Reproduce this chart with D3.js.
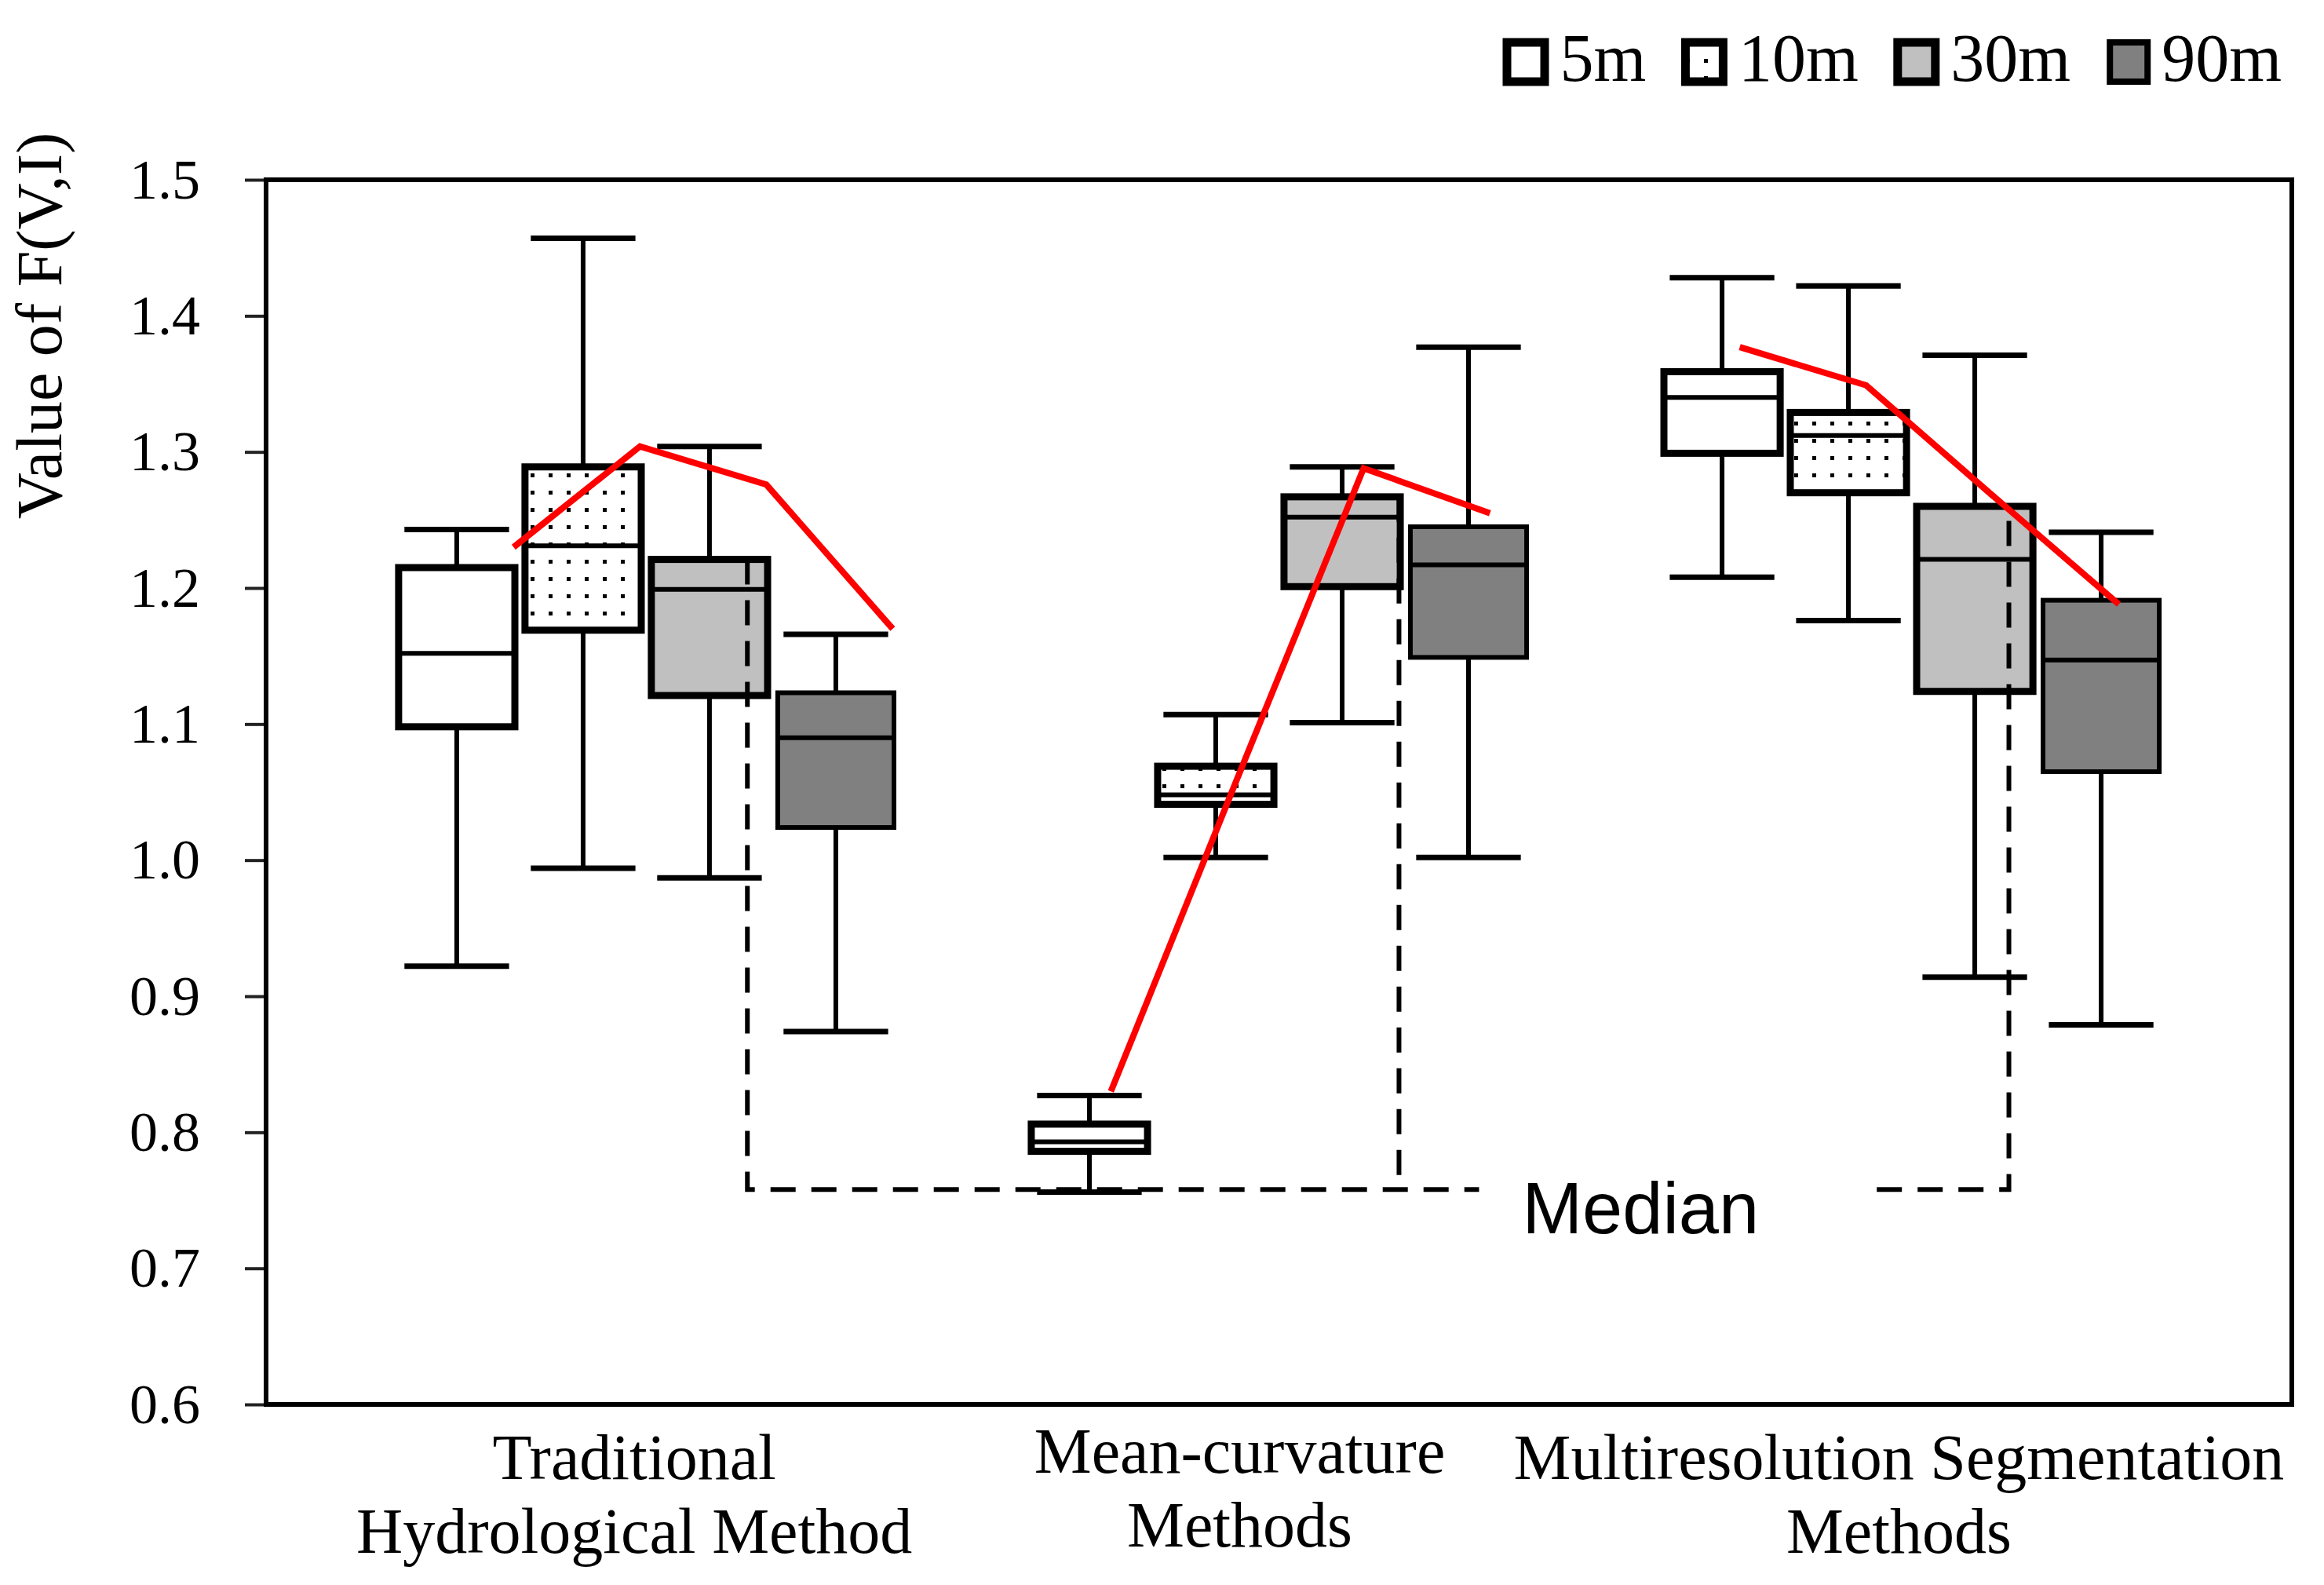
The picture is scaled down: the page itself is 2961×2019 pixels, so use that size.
<!DOCTYPE html>
<html>
<head>
<meta charset="utf-8">
<script src="https://cdn.jsdelivr.net/npm/d3@7"></script>
<style>
  body { margin: 0; background: #fff; }
  text { fill: #000; }
</style>
</head>
<body>
<svg id="chart" width="2961" height="2019"></svg>
<script>
// box plot of F(V,I) for three method families at four DEM resolutions

var categories = ["Traditional Hydrological Method", "Mean-curvature Methods", "Multiresolution Segmentation Methods"];
var categoryLines = [["Traditional", "Hydrological Method"], ["Mean-curvature", "Methods"], ["Multiresolution Segmentation", "Methods"]];
var resolutions = ["5m", "10m", "30m", "90m"];

// one row per category, one entry per resolution
var whiskerHigh = [[1.243, 1.457, 1.304, 1.166], [0.827, 1.107, 1.289, 1.377], [1.428, 1.422, 1.371, 1.241]];
var upperQuartile = [[1.215, 1.289, 1.221, 1.123], [0.806, 1.069, 1.267, 1.245], [1.359, 1.329, 1.260, 1.191]];
var medians = [[1.152, 1.231, 1.199, 1.090], [0.793, 1.048, 1.252, 1.217], [1.340, 1.312, 1.221, 1.147]];
var lowerQuartile = [[1.098, 1.169, 1.121, 1.024], [0.786, 1.041, 1.201, 1.149], [1.299, 1.270, 1.124, 1.065]];
var whiskerLow = [[0.922, 0.994, 0.987, 0.874], [0.756, 1.002, 1.101, 1.002], [1.208, 1.176, 0.914, 0.879]];

// red trend line drawn over each group
var trendValues = [[1.230, 1.304, 1.276, 1.170], [0.830, 1.060, 1.288, 1.255], [1.377, 1.349, 1.268, 1.188]];

// dashed "Median" bracket level
var medianLevel = 0.758;
var yTicks = [0.6, 0.7, 0.8, 0.9, 1.0, 1.1, 1.2, 1.3, 1.4, 1.5];

(function() {
  var fills = {"5m": "#ffffff", "10m": "url(#dots)", "30m": "#c0c0c0", "90m": "#808080"};
  var borders = {"5m": 9, "10m": 9, "30m": 9, "90m": 6};

  var svg = d3.select("#chart");
  var serif = "'Liberation Serif', 'DejaVu Serif', serif";

  var plotLeft = 339, plotRight = 2920, plotTop = 229, plotBottom = 1789;

  var y = d3.scaleLinear().domain([0.6, 1.5]).range([plotBottom, plotTop]);
  var xGroup = d3.scalePoint().domain(categories).range([plotLeft, plotRight]).padding(0.601);
  var xRes = d3.scaleBand().domain(resolutions).range([-322, 322]).paddingInner(0.08).paddingOuter(0.04);
  var bw = xRes.bandwidth();

  // dotted fill for 10m boxes
  var defs = svg.append("defs");
  var pat = defs.append("pattern").attr("id", "dots").attr("patternUnits", "userSpaceOnUse")
    .attr("width", 23).attr("height", 22);
  pat.append("rect").attr("width", 23).attr("height", 22).attr("fill", "#fff");
  pat.append("rect").attr("x", 9).attr("y", 9).attr("width", 5).attr("height", 5).attr("fill", "#000");

  // y axis
  var yAxis = d3.axisLeft(y).tickValues(yTicks).tickFormat(d3.format(".1f")).tickSize(27).tickPadding(57);
  var gy = svg.append("g").attr("transform", "translate(" + plotLeft + ",0)").call(yAxis);
  gy.select(".domain").remove();
  gy.selectAll(".tick line").attr("stroke", "#222").attr("stroke-width", 4);
  gy.selectAll(".tick text").attr("font-family", serif).attr("font-size", 72).attr("fill", "#000");

  svg.append("text")
    .attr("transform", "translate(78,415) rotate(-90)")
    .attr("text-anchor", "middle")
    .attr("font-family", serif).attr("font-size", 82)
    .text("Value of F(V,I)");

  // plot frame
  svg.append("rect").attr("x", plotLeft).attr("y", plotTop)
    .attr("width", plotRight - plotLeft).attr("height", plotBottom - plotTop)
    .attr("fill", "none").attr("stroke", "#000").attr("stroke-width", 6);

  // flatten the table so every box is one datum
  var boxes = [];
  categories.forEach(function(c, g) {
    resolutions.forEach(function(r, i) {
      boxes.push({cat: c, g: g, res: r, hi: whiskerHigh[g][i], q3: upperQuartile[g][i], med: medians[g][i],
        q1: lowerQuartile[g][i], lo: whiskerLow[g][i]});
    });
  });
  function cx(d) { return xGroup(d.cat) + xRes(d.res) + bw / 2; }

  var capW = bw * 0.9;
  var gb = svg.append("g");
  gb.selectAll("line.whisker").data(boxes).enter().append("line")
    .attr("x1", cx).attr("x2", cx)
    .attr("y1", function(d) { return y(d.hi); }).attr("y2", function(d) { return y(d.lo); })
    .attr("stroke", "#000").attr("stroke-width", 6);
  gb.selectAll("line.capHi").data(boxes).enter().append("line")
    .attr("x1", function(d) { return cx(d) - capW / 2; }).attr("x2", function(d) { return cx(d) + capW / 2; })
    .attr("y1", function(d) { return y(d.hi); }).attr("y2", function(d) { return y(d.hi); })
    .attr("stroke", "#000").attr("stroke-width", 7);
  gb.selectAll("line.capLo").data(boxes).enter().append("line")
    .attr("x1", function(d) { return cx(d) - capW / 2; }).attr("x2", function(d) { return cx(d) + capW / 2; })
    .attr("y1", function(d) { return y(d.lo); }).attr("y2", function(d) { return y(d.lo); })
    .attr("stroke", "#000").attr("stroke-width", 7);
  gb.selectAll("rect.box").data(boxes).enter().append("rect")
    .attr("x", function(d) { return cx(d) - bw / 2; }).attr("width", bw)
    .attr("y", function(d) { return y(d.q3); })
    .attr("height", function(d) { return y(d.q1) - y(d.q3); })
    .attr("fill", function(d) { return fills[d.res]; })
    .attr("stroke", "#000").attr("stroke-width", function(d) { return borders[d.res]; });
  gb.selectAll("line.median").data(boxes).enter().append("line")
    .attr("x1", function(d) { return cx(d) - bw / 2; }).attr("x2", function(d) { return cx(d) + bw / 2; })
    .attr("y1", function(d) { return y(d.med); }).attr("y2", function(d) { return y(d.med); })
    .attr("stroke", "#000").attr("stroke-width", 6);

  // dashed bracket joining the 30m boxes, labelled "Median"
  var dashShift = [-0.16, -0.01, -0.19];
  var dashX = categories.map(function(c, g) { return xGroup(c) + xRes("30m") + bw + dashShift[g] * xRes.step(); });
  var yLevel = y(medianLevel);
  var medText = svg.append("text")
    .attr("x", dashX[1] + 157).attr("y", yLevel + 56)
    .attr("font-family", "'Liberation Sans', Arial, sans-serif").attr("font-size", 92)
    .text("Median");
  var tb = medText.node().getBBox();
  var dashed = [
    [[dashX[0], y(upperQuartile[0][2])], [dashX[0], yLevel], [dashX[1], yLevel], [tb.x - 55, yLevel]],
    [[dashX[1], y(upperQuartile[1][2])], [dashX[1], yLevel]],
    [[tb.x + tb.width + 150, yLevel], [dashX[2], yLevel], [dashX[2], y(upperQuartile[2][2])]]
  ];
  svg.selectAll("path.dash").data(dashed).enter().append("path")
    .attr("d", d3.line())
    .attr("fill", "none").attr("stroke", "#000").attr("stroke-width", 6)
    .attr("stroke-dasharray", "32,20");

  // red trend lines
  var trendShift = [0.45, 0.17, 0.14];
  var trendLine = d3.line();
  svg.selectAll("path.trend").data(categories).enter().append("path")
    .attr("d", function(c, g) {
      return trendLine(resolutions.map(function(r, i) {
        return [xGroup(c) + xRes(r) + bw / 2 + trendShift[g] * xRes.step(), y(trendValues[g][i])];
      }));
    })
    .attr("fill", "none").attr("stroke", "#ff0000").attr("stroke-width", 8);

  // category labels under the frame
  var labelShift = [-0.019, -0.062, -0.02];
  var gl = svg.append("g");
  categories.forEach(function(c, g) {
    var lxc = xGroup(c) + labelShift[g] * xGroup.step();
    categoryLines[g].forEach(function(line, k) {
      gl.append("text")
        .attr("text-anchor", "middle")
        .attr("font-family", serif).attr("font-size", 82)
        .attr("x", lxc)
        .attr("y", (g === 1 ? 1876 : 1884) + k * 94)
        .text(line);
    });
  });

  // legend across the top right
  var lx = 1920;
  var lg = svg.append("g");
  resolutions.forEach(function(r) {
    var sw = borders[r] + 2;
    lg.append("rect").attr("x", lx).attr("y", 54).attr("width", 48).attr("height", 50)
      .attr("fill", fills[r]).attr("stroke", "#000").attr("stroke-width", sw);
    var t = lg.append("text").attr("x", lx + 48 + sw / 2 + 14).attr("y", 103)
      .attr("font-family", serif).attr("font-size", 86).text(r);
    lx = lx + 48 + sw / 2 + 14 + t.node().getComputedTextLength() + 50;
  });
})();
</script>
</body>
</html>
